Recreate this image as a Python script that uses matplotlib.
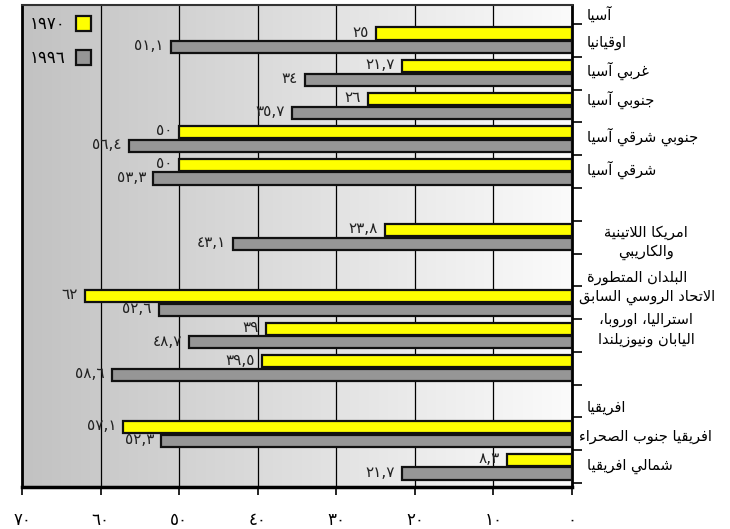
import matplotlib
matplotlib.use('Agg')
import matplotlib.pyplot as plt
import matplotlib.transforms as mtransforms
from matplotlib.colors import LinearSegmentedColormap
from matplotlib.patches import Patch
import numpy as np

# rows top to bottom (one slot each); '' marks an empty slot
regions = ['آسيا', 'اوقيانيا', 'غربي آسيا', 'جنوبي آسيا', 'جنوبي شرقي آسيا',
           'شرقي آسيا', '', 'امريكا اللاتينية\nوالكاريبي', 'البلدان المتطورة',
           'الاتحاد الروسي السابق', 'استراليا، اوروبا،\nاليابان ونيوزيلندا', '',
           'افريقيا', 'افريقيا جنوب الصحراء', 'شمالي افريقيا']
v1970 = [None, 25, 21.7, 26, 50, 50, None, 23.8, None, 62, 39, 39.5, None, 57.1, 8.3]
v1996 = [None, 51.1, 34, 35.7, 56.4, 53.3, None, 43.1, None, 52.6, 48.7, 58.6, None, 52.3, 21.7]
years = ['1970', '1996']
xticks = [0, 10, 20, 30, 40, 50, 60, 70]

# label nudges relative to the slot centre
label_shift = [0.2, 0.05, -0.07, -0.18, -0.05, -0.05, 0, 0.16, 0.24, -0.15, -0.18, 0, 0.2, 0.09, 0.0]

# --- minimal arabic shaping (presentation forms + right-to-left order) ---
FORMS = {
    'ء': ('\uFE80',),
    'آ': ('\uFE81', '\uFE82'),
    'ا': ('\uFE8D', '\uFE8E'),
    'ب': ('\uFE8F', '\uFE90', '\uFE91', '\uFE92'),
    'ة': ('\uFE93', '\uFE94'),
    'ت': ('\uFE95', '\uFE96', '\uFE97', '\uFE98'),
    'ج': ('\uFE9D', '\uFE9E', '\uFE9F', '\uFEA0'),
    'ح': ('\uFEA1', '\uFEA2', '\uFEA3', '\uFEA4'),
    'د': ('\uFEA9', '\uFEAA'),
    'ر': ('\uFEAD', '\uFEAE'),
    'ز': ('\uFEAF', '\uFEB0'),
    'س': ('\uFEB1', '\uFEB2', '\uFEB3', '\uFEB4'),
    'ش': ('\uFEB5', '\uFEB6', '\uFEB7', '\uFEB8'),
    'ص': ('\uFEB9', '\uFEBA', '\uFEBB', '\uFEBC'),
    'ط': ('\uFEC1', '\uFEC2', '\uFEC3', '\uFEC4'),
    'ع': ('\uFEC9', '\uFECA', '\uFECB', '\uFECC'),
    'غ': ('\uFECD', '\uFECE', '\uFECF', '\uFED0'),
    'ف': ('\uFED1', '\uFED2', '\uFED3', '\uFED4'),
    'ق': ('\uFED5', '\uFED6', '\uFED7', '\uFED8'),
    'ك': ('\uFED9', '\uFEDA', '\uFEDB', '\uFEDC'),
    'ل': ('\uFEDD', '\uFEDE', '\uFEDF', '\uFEE0'),
    'م': ('\uFEE1', '\uFEE2', '\uFEE3', '\uFEE4'),
    'ن': ('\uFEE5', '\uFEE6', '\uFEE7', '\uFEE8'),
    'ه': ('\uFEE9', '\uFEEA', '\uFEEB', '\uFEEC'),
    'و': ('\uFEED', '\uFEEE'),
    'ى': ('\uFEEF', '\uFEF0'),
    'ي': ('\uFEF1', '\uFEF2', '\uFEF3', '\uFEF4'),
}
LAM_ALEF = {'ا': ('\uFEFB', '\uFEFC'), 'آ': ('\uFEF5', '\uFEF6')}


def shape_line(text):
    out = []
    i = 0
    while i < len(text):
        c = text[i]
        forms = FORMS.get(c)
        if forms is None:
            out.append(c)
            i += 1
            continue
        prev = text[i - 1] if i > 0 else ''
        nxt = text[i + 1] if i + 1 < len(text) else ''
        joins_prev = len(FORMS.get(prev, ())) == 4
        if c == 'ل' and nxt in LAM_ALEF:
            iso, fin = LAM_ALEF[nxt]
            out.append(fin if joins_prev else iso)
            i += 2
            continue
        joins_next = len(forms) == 4 and len(FORMS.get(nxt, ())) >= 2
        if joins_prev and joins_next:
            out.append(forms[3])
        elif joins_prev:
            out.append(forms[1])
        elif joins_next:
            out.append(forms[2])
        else:
            out.append(forms[0])
        i += 1
    return ''.join(reversed(out))


def shape(text):
    return '\n'.join(shape_line(t) for t in text.split('\n'))


def ar_num(v):
    s = '{:g}'.format(v).replace('.', ',')
    return s.translate(str.maketrans('0123456789', '٠١٢٣٤٥٦٧٨٩'))


yellow = '#ffff00'
grey = '#969696'

fig = plt.figure(figsize=(7.3, 5.29), dpi=100)
ax = fig.add_axes([22 / 730, 42 / 529, 550 / 730, 482 / 529])

# grey-to-white shading behind the bars
shade = LinearSegmentedColormap.from_list('shade', ['#c2c2c2', '#fbfbfb'])
ax.imshow(np.linspace(0, 1, 256).reshape(1, -1), cmap=shade, aspect='auto',
          extent=[0, 1, 0, 1], transform=ax.transAxes, zorder=0)

slots = np.arange(len(regions))
for vals, off, col in [(v1970, 0.29, yellow), (v1996, 0.71, grey)]:
    idx = [i for i, v in enumerate(vals) if v is not None]
    w = [vals[i] for i in idx]
    ax.barh(slots[idx] + off, w, height=0.37, color=col, edgecolor='#111111',
            linewidth=1.6, zorder=3)
    for i, v in zip(idx, w):
        ax.annotate(ar_num(v), (v, i + off), xytext=(-5, 1), textcoords='offset points',
                    ha='right', va='center', fontsize=11, color='#222222', zorder=4)

ax.set_xlim(70, 0)
ax.set_ylim(15.12, 0.42)

ax.set_xticks(xticks)
ax.set_xticklabels([ar_num(t) for t in xticks], fontsize=12)
ax.tick_params(axis='x', direction='out', length=6, width=1.2, pad=11)
ax.grid(axis='x', color='black', linewidth=0.9, zorder=1)
ax.set_axisbelow(True)

ax.yaxis.tick_right()
ax.set_yticks(np.arange(1, 16))
ax.tick_params(axis='y', direction='out', length=7, width=1.2, labelright=False)

for side in ['left', 'right']:
    ax.spines[side].set_linewidth(2)
ax.spines['bottom'].set_linewidth(2.5)
ax.spines['top'].set_linewidth(1.5)
ax.spines['top'].set_color('#333333')

# region names to the right of the axis
trans = mtransforms.blended_transform_factory(ax.transAxes, ax.transData)
for i, name in enumerate(regions):
    if not name:
        continue
    if '\n' in name:
        ax.text(1.135, i + 0.5 + label_shift[i], shape(name), transform=trans,
                ha='center', va='center', multialignment='center',
                fontsize=10.5, linespacing=1.35, clip_on=False)
    else:
        x0 = 1.013 if len(name) > 18 else 1.027
        ax.text(x0, i + 0.5 + label_shift[i], shape(name), transform=trans,
                ha='left', va='center', fontsize=10.5, clip_on=False)

handles = [Patch(facecolor=yellow, edgecolor='#111111', linewidth=1.6, label=ar_num(int(years[0]))),
           Patch(facecolor=grey, edgecolor='#111111', linewidth=1.6, label=ar_num(int(years[1])))]
ax.legend(handles=handles, loc='upper left', bbox_to_anchor=(-0.007, 1.003),
          markerfirst=False, frameon=False, fontsize=12, handlelength=0.95,
          handleheight=0.95, handletextpad=0.6, labelspacing=0.95, borderaxespad=0.3)

fig.savefig('out.png', dpi=100)
